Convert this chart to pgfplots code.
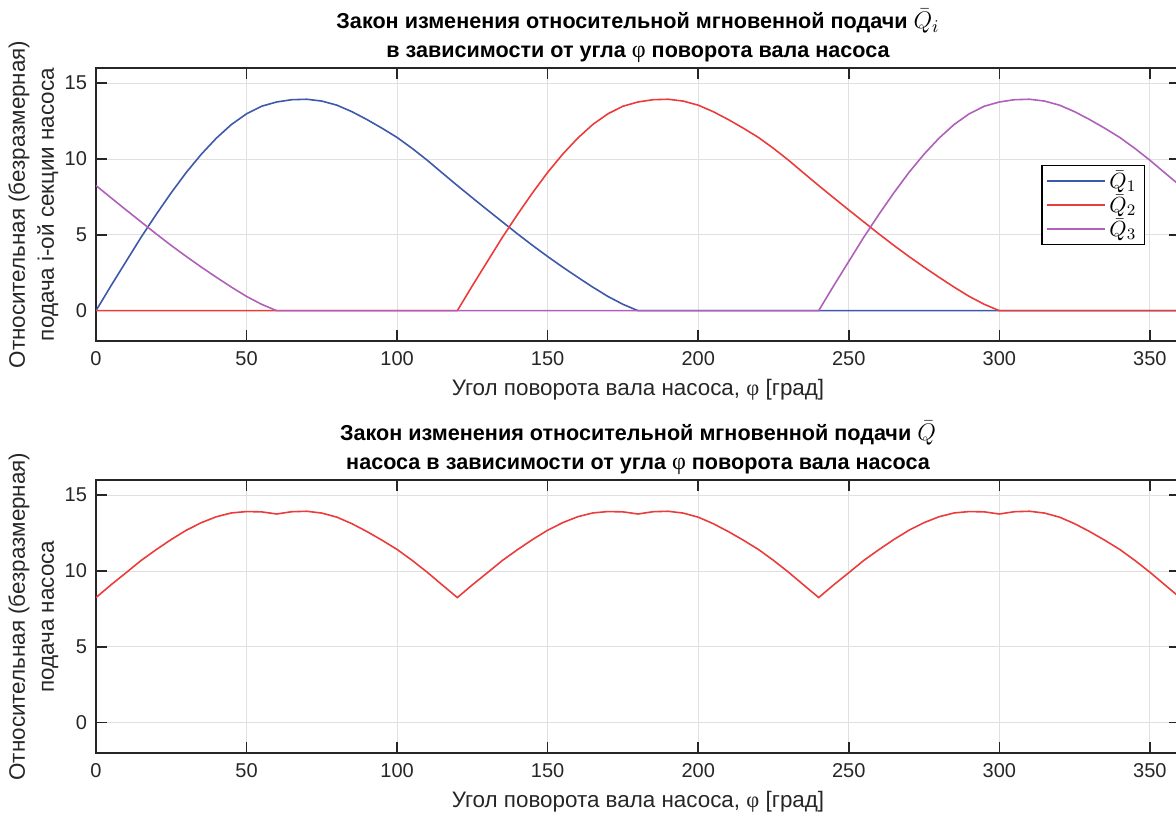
\documentclass[border=0pt]{standalone}
\usepackage{fontspec}
\setmainfont{Liberation Sans}
\newfontfamily\tms{Liberation Serif}
\usepackage{pgfplots}
\pgfplotsset{compat=1.18}
\usepackage{pgfplotstable}

\definecolor{cblue}{RGB}{62,88,170}
\definecolor{cred}{RGB}{235,60,60}
\definecolor{cpurp}{RGB}{176,96,186}
\definecolor{axgray}{RGB}{38,38,38}
\definecolor{grd}{RGB}{224,224,224}

% values in units of 1e-3
\pgfplotstableread{
phi q1 q2 q3 s
0 0 0 8.25 8.25
5 1.65 0 7.44 9.09
10 3.25 0 6.64 9.89
15 4.85 0 5.85 10.70
20 6.35 0 5.06 11.41
25 7.78 0 4.30 12.08
30 9.12 0 3.57 12.69
35 10.32 0 2.87 13.19
40 11.38 0 2.20 13.58
45 12.28 0 1.55 13.83
50 12.98 0 0.94 13.92
55 13.48 0 0.42 13.90
60 13.76 0 0 13.76
65 13.91 0 0 13.91
70 13.94 0 0 13.94
75 13.82 0 0 13.82
80 13.55 0 0 13.55
85 13.12 0 0 13.12
90 12.60 0 0 12.60
95 12.03 0 0 12.03
100 11.42 0 0 11.42
105 10.70 0 0 10.70
110 9.92 0 0 9.92
115 9.08 0 0 9.08
120 8.25 0 0 8.25
125 7.44 1.65 0 9.09
130 6.64 3.25 0 9.89
135 5.85 4.85 0 10.70
140 5.06 6.35 0 11.41
145 4.30 7.78 0 12.08
150 3.57 9.12 0 12.69
155 2.87 10.32 0 13.19
160 2.20 11.38 0 13.58
165 1.55 12.28 0 13.83
170 0.94 12.98 0 13.92
175 0.42 13.48 0 13.90
180 0 13.76 0 13.76
185 0 13.91 0 13.91
190 0 13.94 0 13.94
195 0 13.82 0 13.82
200 0 13.55 0 13.55
205 0 13.12 0 13.12
210 0 12.60 0 12.60
215 0 12.03 0 12.03
220 0 11.42 0 11.42
225 0 10.70 0 10.70
230 0 9.92 0 9.92
235 0 9.08 0 9.08
240 0 8.25 0 8.25
245 0 7.44 1.65 9.09
250 0 6.64 3.25 9.89
255 0 5.85 4.85 10.70
260 0 5.06 6.35 11.41
265 0 4.30 7.78 12.08
270 0 3.57 9.12 12.69
275 0 2.87 10.32 13.19
280 0 2.20 11.38 13.58
285 0 1.55 12.28 13.83
290 0 0.94 12.98 13.92
295 0 0.42 13.48 13.90
300 0 0 13.76 13.76
305 0 0 13.91 13.91
310 0 0 13.94 13.94
315 0 0 13.82 13.82
320 0 0 13.55 13.55
325 0 0 13.12 13.12
330 0 0 12.60 12.60
335 0 0 12.03 12.03
340 0 0 11.42 11.42
345 0 0 10.70 10.70
350 0 0 9.92 9.92
355 0 0 9.08 9.08
360 0 0 8.25 8.25
}\data

\pgfplotsset{myax/.style={
  scale only axis, width=542pt, height=136.5pt,
  xmin=0, xmax=360, ymin=-2, ymax=16,
  xtick={0,50,...,350}, ytick={0,5,10,15},
  grid=major, major grid style={grd, line width=0.5pt},
  tick pos=both, tick align=inside, major tick length=5.5pt,
  axis line style={axgray, line width=0.8pt},
  every tick/.style={axgray, line width=0.8pt},
  tick label style={font=\fontsize{10}{11}\selectfont, text=axgray},
  /pgf/number format/assume math mode=true,
  xticklabel style={yshift=-1.5pt},
  yticklabel style={xshift=-1pt},
  every axis x label/.style={at={(rel axis cs:0.5,0)}, anchor=center, yshift=-24.5pt,
     font=\fontsize{11.2}{13}\selectfont, text=axgray},
  every axis y label/.style={at={(rel axis cs:0,0.5)}, xshift=-31.25pt, rotate=90, anchor=center,
     align=center, font=\fontsize{11.2}{14.5}\selectfont, text=axgray},
  every axis title/.style={at={(rel axis cs:0.5,1)}, anchor=center, yshift=16pt,
     align=center, font=\bfseries\fontsize{10.8}{14.5}\selectfont},
  xlabel={Угол поворота вала насоса, {\tms φ} [град]},
  every axis plot/.append style={line width=0.8pt},
}}

\begin{document}
\begin{tikzpicture}
\path[use as bounding box] (0,0) rectangle (588pt,-410.5pt);
\begin{axis}[myax, at={(48pt,-170.5pt)}, anchor=south west,
  title={Закон изменения относительной мгновенной подачи {\fontsize{12.5}{12}\selectfont$\bar{Q}_i$}\\в зависимости от угла {\tms\mdseries\fontsize{12}{12}\selectfont φ} поворота вала насоса},
  ylabel={Относительная (безразмерная)\\подача i-ой секции насоса},
  legend style={at={(rel axis cs:0.9677,0.6447)}, anchor=north east, draw=black, line width=0.7pt,
    fill=white, font=\fontsize{11}{11}\selectfont, inner xsep=2pt, inner ysep=0.5pt, row sep=-2.5pt},
  legend cell align=left,
  legend image code/.code={\draw[#1, line width=0.8pt] (0pt,0pt) -- (29pt,0pt);},
]
\node[anchor=south west, inner sep=0pt, font=\fontsize{10}{11}\selectfont, text=axgray] at (rel axis cs:0,1) [yshift=2pt] {×10\textsuperscript{-3}};
\addplot[cblue] table[x=phi,y=q1]{\data};
\addlegendentry{$\bar{Q}_1$}
\addplot[cred] table[x=phi,y=q2]{\data};
\addlegendentry{$\bar{Q}_2$}
\addplot[cpurp] table[x=phi,y=q3]{\data};
\addlegendentry{$\bar{Q}_3$}
\end{axis}
\begin{axis}[myax, at={(48pt,-376.5pt)}, anchor=south west,
  title={Закон изменения относительной мгновенной подачи {\fontsize{12.5}{12}\selectfont$\bar{Q}$}\\насоса в зависимости от угла {\tms\mdseries\fontsize{12}{12}\selectfont φ} поворота вала насоса},
  ylabel={Относительная (безразмерная)\\подача насоса},
]
\node[anchor=south west, inner sep=0pt, font=\fontsize{10}{11}\selectfont, text=axgray] at (rel axis cs:0,1) [yshift=2pt] {×10\textsuperscript{-3}};
\addplot[cred] table[x=phi,y=s]{\data};
\end{axis}
\end{tikzpicture}
\end{document}
